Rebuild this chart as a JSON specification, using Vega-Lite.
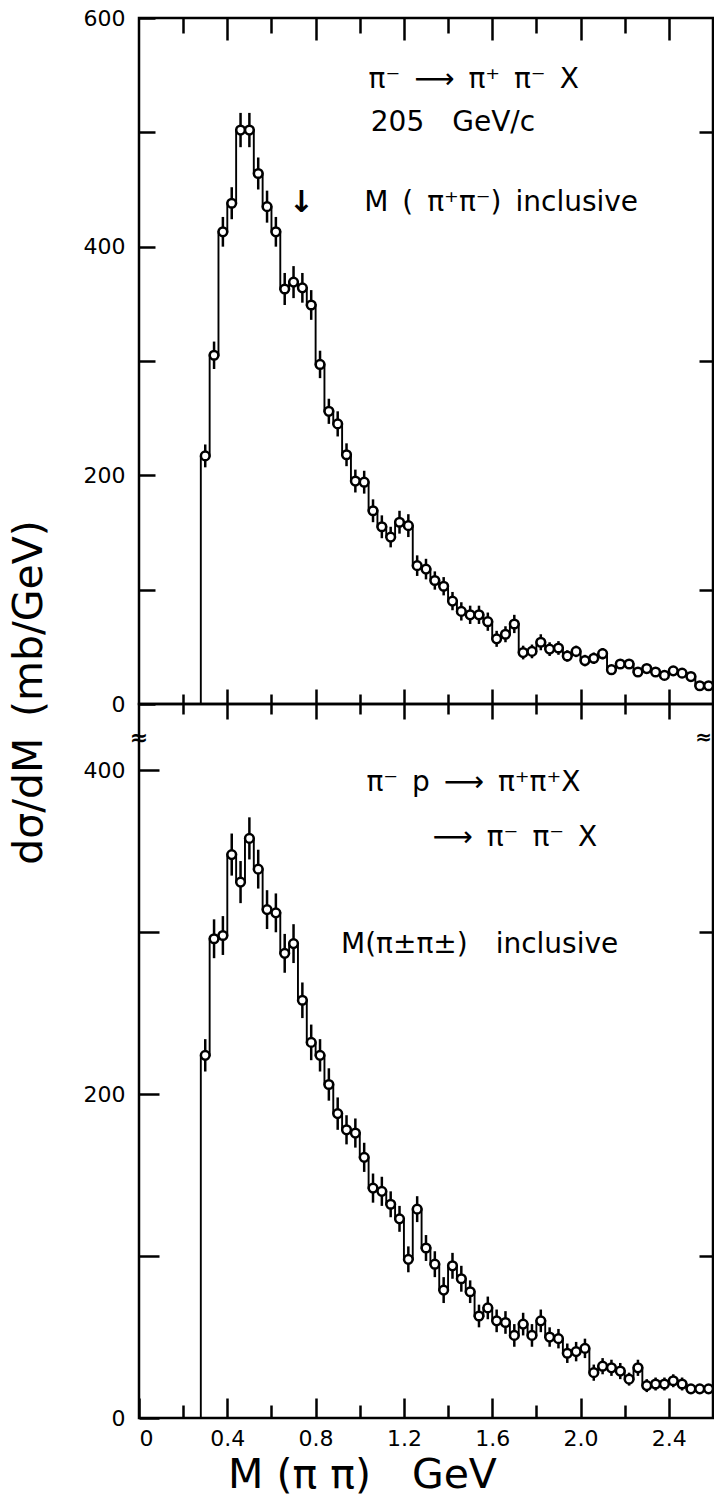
{
  "$schema": "https://vega.github.io/schema/vega-lite/v6.json",
  "padding": {"left": 6, "top": 5, "right": 0, "bottom": 5},
  "bounds": "flush",
  "spacing": 0,
  "background": "white",
  "config": {
    "view": {"stroke": "black", "strokeWidth": 2.5},
    "axis": {"domain": false, "grid": false, "tickColor": "black", "tickWidth": 2.5, "labelColor": "black", "labelFont": "DejaVu Sans", "labelFontSize": 22, "titleColor": "black", "titleFont": "DejaVu Sans", "titleFontWeight": "normal", "titleFontSize": 41}
  },
  "datasets": {
    "top": [
      {"m": 0.30, "v": 217, "e": 10}, {"m": 0.34, "v": 305, "e": 12}, {"m": 0.38, "v": 413, "e": 13}, {"m": 0.42, "v": 438, "e": 14},
      {"m": 0.46, "v": 502, "e": 15}, {"m": 0.50, "v": 502, "e": 15}, {"m": 0.54, "v": 464, "e": 14}, {"m": 0.58, "v": 435, "e": 14},
      {"m": 0.62, "v": 413, "e": 13}, {"m": 0.66, "v": 363, "e": 14}, {"m": 0.70, "v": 369, "e": 14}, {"m": 0.74, "v": 364, "e": 13},
      {"m": 0.78, "v": 349, "e": 13}, {"m": 0.82, "v": 297, "e": 12}, {"m": 0.86, "v": 256, "e": 11}, {"m": 0.90, "v": 245, "e": 11},
      {"m": 0.94, "v": 218, "e": 10}, {"m": 0.98, "v": 195, "e": 10}, {"m": 1.02, "v": 194, "e": 10}, {"m": 1.06, "v": 169, "e": 10},
      {"m": 1.10, "v": 155, "e": 10}, {"m": 1.14, "v": 146, "e": 9}, {"m": 1.18, "v": 159, "e": 10}, {"m": 1.22, "v": 156, "e": 10},
      {"m": 1.26, "v": 121, "e": 9}, {"m": 1.30, "v": 118, "e": 9}, {"m": 1.34, "v": 108, "e": 8}, {"m": 1.38, "v": 103, "e": 8},
      {"m": 1.42, "v": 90, "e": 8}, {"m": 1.46, "v": 81, "e": 8}, {"m": 1.50, "v": 78, "e": 8}, {"m": 1.54, "v": 78, "e": 8},
      {"m": 1.58, "v": 72, "e": 8}, {"m": 1.62, "v": 57, "e": 7}, {"m": 1.66, "v": 61, "e": 7}, {"m": 1.70, "v": 70, "e": 8},
      {"m": 1.74, "v": 45, "e": 6}, {"m": 1.78, "v": 46, "e": 6}, {"m": 1.82, "v": 54, "e": 7}, {"m": 1.86, "v": 48, "e": 6},
      {"m": 1.90, "v": 49, "e": 6}, {"m": 1.94, "v": 42, "e": 5}, {"m": 1.98, "v": 46, "e": 5}, {"m": 2.02, "v": 38, "e": 5},
      {"m": 2.06, "v": 40, "e": 5}, {"m": 2.10, "v": 44, "e": 5}, {"m": 2.14, "v": 30, "e": 4}, {"m": 2.18, "v": 35, "e": 4},
      {"m": 2.22, "v": 35, "e": 4}, {"m": 2.26, "v": 28, "e": 4}, {"m": 2.30, "v": 31, "e": 4}, {"m": 2.34, "v": 28, "e": 4},
      {"m": 2.38, "v": 25, "e": 4}, {"m": 2.42, "v": 29, "e": 4}, {"m": 2.46, "v": 27, "e": 4}, {"m": 2.50, "v": 24, "e": 4},
      {"m": 2.54, "v": 16, "e": 3}, {"m": 2.58, "v": 16, "e": 3}
    ],
    "bottom": [
      {"m": 0.30, "v": 224, "e": 10}, {"m": 0.34, "v": 296, "e": 12}, {"m": 0.38, "v": 298, "e": 12}, {"m": 0.42, "v": 348, "e": 13},
      {"m": 0.46, "v": 331, "e": 13}, {"m": 0.50, "v": 358, "e": 13}, {"m": 0.54, "v": 339, "e": 12}, {"m": 0.58, "v": 314, "e": 12},
      {"m": 0.62, "v": 312, "e": 12}, {"m": 0.66, "v": 287, "e": 12}, {"m": 0.70, "v": 293, "e": 12}, {"m": 0.74, "v": 258, "e": 11},
      {"m": 0.78, "v": 232, "e": 11}, {"m": 0.82, "v": 224, "e": 10}, {"m": 0.86, "v": 206, "e": 10}, {"m": 0.90, "v": 188, "e": 10},
      {"m": 0.94, "v": 178, "e": 9}, {"m": 0.98, "v": 176, "e": 9}, {"m": 1.02, "v": 161, "e": 9}, {"m": 1.06, "v": 142, "e": 9},
      {"m": 1.10, "v": 140, "e": 9}, {"m": 1.14, "v": 132, "e": 8}, {"m": 1.18, "v": 123, "e": 8}, {"m": 1.22, "v": 98, "e": 8},
      {"m": 1.26, "v": 129, "e": 8}, {"m": 1.30, "v": 105, "e": 8}, {"m": 1.34, "v": 95, "e": 8}, {"m": 1.38, "v": 79, "e": 8},
      {"m": 1.42, "v": 94, "e": 8}, {"m": 1.46, "v": 86, "e": 8}, {"m": 1.50, "v": 78, "e": 7}, {"m": 1.54, "v": 63, "e": 7},
      {"m": 1.58, "v": 68, "e": 7}, {"m": 1.62, "v": 60, "e": 7}, {"m": 1.66, "v": 59, "e": 7}, {"m": 1.70, "v": 51, "e": 7},
      {"m": 1.74, "v": 58, "e": 7}, {"m": 1.78, "v": 51, "e": 7}, {"m": 1.82, "v": 60, "e": 7}, {"m": 1.86, "v": 50, "e": 6},
      {"m": 1.90, "v": 49, "e": 6}, {"m": 1.94, "v": 40, "e": 6}, {"m": 1.98, "v": 41, "e": 6}, {"m": 2.02, "v": 43, "e": 6},
      {"m": 2.06, "v": 28, "e": 5}, {"m": 2.10, "v": 32, "e": 5}, {"m": 2.14, "v": 31, "e": 5}, {"m": 2.18, "v": 29, "e": 5},
      {"m": 2.22, "v": 24, "e": 4}, {"m": 2.26, "v": 31, "e": 5}, {"m": 2.30, "v": 20, "e": 4}, {"m": 2.34, "v": 21, "e": 4},
      {"m": 2.38, "v": 21, "e": 4}, {"m": 2.42, "v": 23, "e": 4}, {"m": 2.46, "v": 21, "e": 4}, {"m": 2.50, "v": 18, "e": 3},
      {"m": 2.54, "v": 18, "e": 3}, {"m": 2.58, "v": 18, "e": 3}
    ]
  },
  "vconcat": [
    {
      "width": 574,
      "height": 686,
      "layer": [
        {
          "data": {"name": "top"},
          "mark": {"type": "line", "interpolate": "step", "color": "black", "strokeWidth": 1.9},
          "encoding": {
            "x": {"field": "m", "type": "quantitative", "scale": {"domain": [0, 2.6], "nice": false, "zero": false},
              "axis": {"orient": "top", "values": [0.2, 0.4, 0.6, 0.8, 1.0, 1.2, 1.4, 1.6, 1.8, 2.0, 2.2, 2.4], "labels": false, "title": null,
                "tickSize": {"condition": {"test": "round(datum.value*5) % 2 == 0", "value": -22}, "value": -15}}},
            "y": {"field": "v", "type": "quantitative", "scale": {"domain": [0, 600], "nice": false},
              "axis": {"orient": "left", "values": [0, 100, 200, 300, 400, 500, 600], "tickSize": -16, "labelPadding": 30,
                "labelExpr": "datum.value % 200 == 0 ? datum.label : ''",
                "title": "dσ/dM\u2002(mb/GeV)", "titleX": -110, "titleY": 674, "titleAngle": 270, "titleAlign": "center", "titleBaseline": "middle"}}
          }
        },
        {
          "data": {"name": "top"},
          "mark": {"type": "errorbar", "color": "black", "thickness": 2.5},
          "encoding": {
            "x": {"field": "m", "type": "quantitative", "axis": null},
            "y": {"field": "v", "type": "quantitative", "axis": null, "title": null},
            "yError": {"field": "e"}
          }
        },
        {
          "data": {"name": "top"},
          "mark": {"type": "point", "shape": "circle", "filled": true, "fill": "white", "stroke": "black", "strokeWidth": 2.5, "size": 75, "opacity": 1},
          "encoding": {
            "x": {"field": "m", "type": "quantitative",
              "axis": {"orient": "bottom", "values": [0.2, 0.4, 0.6, 0.8, 1.0, 1.2, 1.4, 1.6, 1.8, 2.0, 2.2, 2.4], "labels": false, "title": null,
                "tickSize": {"condition": {"test": "round(datum.value*5) % 2 == 0", "value": 15}, "value": 10}}},
            "y": {"field": "v", "type": "quantitative",
              "axis": {"orient": "right", "values": [100, 300, 500], "labels": false, "title": null, "tickSize": -14}}
          }
        },
        {
          "data": {"values": [{}]},
          "mark": {"type": "rule", "color": "black", "strokeWidth": 1.9},
          "encoding": {
            "x": {"datum": 0.28, "type": "quantitative", "axis": null},
            "y": {"datum": 0, "type": "quantitative", "axis": null},
            "y2": {"datum": 217}
          }
        },
        {
          "data": {"values": [{}]},
          "mark": {"type": "text", "text": "π⁻\u2002⟶\u2002π⁺\u2002π⁻\u2002X", "font": "DejaVu Sans", "fontSize": 28, "align": "left", "baseline": "alphabetic", "fill": "black"},
          "encoding": {"x": {"datum": 1.04, "type": "quantitative", "axis": null}, "y": {"datum": 539, "type": "quantitative", "axis": null}}
        },
        {
          "data": {"values": [{}]},
          "mark": {"type": "text", "text": "205\u2003GeV/c", "font": "DejaVu Sans", "fontSize": 28, "align": "left", "baseline": "alphabetic", "fill": "black"},
          "encoding": {"x": {"datum": 1.05, "type": "quantitative", "axis": null}, "y": {"datum": 501, "type": "quantitative", "axis": null}}
        },
        {
          "data": {"values": [{}]},
          "mark": {"type": "text", "text": "M\u2002(\u2002π⁺π⁻)\u2002inclusive", "font": "DejaVu Sans", "fontSize": 28, "align": "left", "baseline": "alphabetic", "fill": "black"},
          "encoding": {"x": {"datum": 1.02, "type": "quantitative", "axis": null}, "y": {"datum": 431, "type": "quantitative", "axis": null}}
        },
        {
          "data": {"values": [{}]},
          "mark": {"type": "text", "text": "↓", "font": "DejaVu Sans", "fontSize": 30, "fontWeight": "bold", "align": "center", "baseline": "middle", "fill": "black"},
          "encoding": {"x": {"datum": 0.735, "type": "quantitative", "axis": null}, "y": {"datum": 438, "type": "quantitative", "axis": null}}
        }
      ],
      "resolve": {"axis": {"x": "independent", "y": "independent"}}
    },
    {
      "width": 574,
      "height": 714,
      "layer": [
        {
          "data": {"name": "bottom"},
          "mark": {"type": "line", "interpolate": "step", "color": "black", "strokeWidth": 1.9},
          "encoding": {
            "x": {"field": "m", "type": "quantitative", "scale": {"domain": [0, 2.6], "nice": false, "zero": false},
              "axis": {"orient": "top", "values": [0.2, 0.4, 0.6, 0.8, 1.0, 1.2, 1.4, 1.6, 1.8, 2.0, 2.2, 2.4], "labels": false, "title": null,
                "tickSize": {"condition": {"test": "round(datum.value*5) % 2 == 0", "value": 15}, "value": 10}}},
            "y": {"field": "v", "type": "quantitative", "scale": {"domain": [0, 441], "nice": false},
              "axis": {"orient": "left", "values": [0, 100, 200, 300, 400], "tickSize": -20, "labelPadding": 34,
                "labelExpr": "datum.value % 200 == 0 ? datum.label : ''", "title": null}}
          }
        },
        {
          "data": {"name": "bottom"},
          "mark": {"type": "errorbar", "color": "black", "thickness": 2.5},
          "encoding": {
            "x": {"field": "m", "type": "quantitative", "axis": null},
            "y": {"field": "v", "type": "quantitative", "axis": null, "title": null},
            "yError": {"field": "e"}
          }
        },
        {
          "data": {"name": "bottom"},
          "mark": {"type": "point", "shape": "circle", "filled": true, "fill": "white", "stroke": "black", "strokeWidth": 2.5, "size": 75, "opacity": 1},
          "encoding": {
            "x": {"field": "m", "type": "quantitative",
              "axis": {"orient": "bottom", "values": [0, 0.2, 0.4, 0.6, 0.8, 1.0, 1.2, 1.4, 1.6, 1.8, 2.0, 2.2, 2.4],
                "tickSize": {"condition": {"test": "round(datum.value*5) % 2 == 0", "value": -20}, "value": -13},
                "labelPadding": 30,
                "labelExpr": "round(datum.value*5) % 2 == 0 ? (datum.value == 0 ? '0' : format(datum.value, '.1f')) : ''",
                "title": "M (π π)\u2002\u2002GeV", "titleX": 223, "titleY": 57, "titleAlign": "center", "titleBaseline": "middle"}},
            "y": {"field": "v", "type": "quantitative",
              "axis": {"orient": "right", "values": [100, 300], "labels": false, "title": null, "tickSize": -14}}
          }
        },
        {
          "data": {"values": [{}]},
          "mark": {"type": "rule", "color": "black", "strokeWidth": 1.9},
          "encoding": {
            "x": {"datum": 0.28, "type": "quantitative", "axis": null},
            "y": {"datum": 0, "type": "quantitative", "axis": null},
            "y2": {"datum": 224}
          }
        },
        {
          "data": {"values": [{}]},
          "mark": {"type": "text", "text": "π⁻\u2002p\u2002⟶\u2002π⁺π⁺X", "font": "DejaVu Sans", "fontSize": 28, "align": "left", "baseline": "alphabetic", "fill": "black"},
          "encoding": {"x": {"datum": 1.03, "type": "quantitative", "axis": null}, "y": {"datum": 387, "type": "quantitative", "axis": null}}
        },
        {
          "data": {"values": [{}]},
          "mark": {"type": "text", "text": "⟶\u2002π⁻\u2002π⁻\u2002X", "font": "DejaVu Sans", "fontSize": 28, "align": "left", "baseline": "alphabetic", "fill": "black"},
          "encoding": {"x": {"datum": 1.33, "type": "quantitative", "axis": null}, "y": {"datum": 353, "type": "quantitative", "axis": null}}
        },
        {
          "data": {"values": [{}]},
          "mark": {"type": "text", "text": "M(π±π±)\u2003inclusive", "font": "DejaVu Sans", "fontSize": 28, "align": "left", "baseline": "alphabetic", "fill": "black"},
          "encoding": {"x": {"datum": 0.915, "type": "quantitative", "axis": null}, "y": {"datum": 287, "type": "quantitative", "axis": null}}
        },
        {
          "data": {"values": [{}]},
          "mark": {"type": "text", "text": "≈", "font": "DejaVu Sans", "fontSize": 22, "fontWeight": "bold", "align": "center", "baseline": "middle", "fill": "black"},
          "encoding": {"x": {"datum": 0, "type": "quantitative", "axis": null}, "y": {"datum": 420, "type": "quantitative", "axis": null}}
        },
        {
          "data": {"values": [{}]},
          "mark": {"type": "text", "text": "≈", "font": "DejaVu Sans", "fontSize": 20, "fontWeight": "bold", "align": "right", "baseline": "middle", "fill": "black"},
          "encoding": {"x": {"datum": 2.595, "type": "quantitative", "axis": null}, "y": {"datum": 420, "type": "quantitative", "axis": null}}
        }
      ],
      "resolve": {"axis": {"x": "independent", "y": "independent"}}
    }
  ]
}
